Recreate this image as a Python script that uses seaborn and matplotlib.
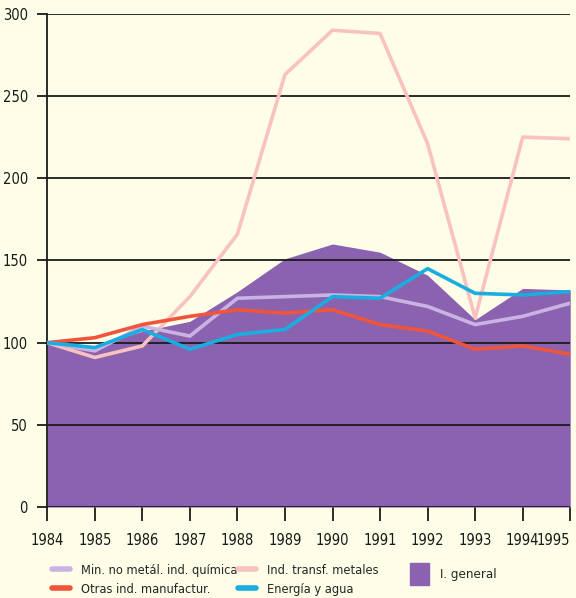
import matplotlib
matplotlib.use("Agg")
import matplotlib.pyplot as plt
import seaborn as sns
import pandas as pd
from matplotlib.lines import Line2D
from matplotlib.patches import Patch

years = [1984, 1985, 1986, 1987, 1988, 1989, 1990, 1991, 1992, 1993, 1994, 1995]
general = [100, 98, 107, 113, 131, 151, 160, 155, 141, 114, 133, 132]
min_quimica = [100, 95, 110, 104, 127, 128, 129, 128, 122, 111, 116, 124]
otras_manuf = [100, 103, 111, 116, 120, 118, 120, 111, 107, 96, 98, 93]
transf_metales = [100, 91, 98, 128, 166, 263, 290, 288, 221, 115, 225, 224]
energia_agua = [100, 97, 108, 96, 105, 108, 128, 127, 145, 130, 129, 131]

labels = ["Min. no metál. ind. química", "Otras ind. manufactur.",
          "Ind. transf. metales", "Energía y agua"]
general_label = "I. general"
yticks = [0, 50, 100, 150, 200, 250, 300]

sns.set_theme(style="white")
plt.rcParams['font.family'] = ['DejaVu Sans']
plt.rcParams['font.stretch'] = 'condensed'

bg = "#fdfde8"
c_area = "#8a62b0"
c_min = "#c9b3e3"
c_otras = "#f0553c"
c_transf = "#f9c2c0"
c_energia = "#1aaee0"
ink = "#1a1a1a"

fig = plt.figure(figsize=(5.76, 5.98), dpi=100, facecolor=bg)
ax = fig.add_axes([0.082, 0.152, 0.908, 0.825])
ax.set_facecolor(bg)

df = pd.DataFrame({"year": years, "general": general, "min": min_quimica,
                   "otras": otras_manuf, "transf": transf_metales, "energia": energia_agua})

ax.fill_between(df["year"], 0, df["general"], color=c_area, lw=0, zorder=1)
for y in yticks:
    ax.axhline(y, color=ink, lw=1.3, zorder=2)

for col, c in [("transf", c_transf), ("min", c_min), ("otras", c_otras), ("energia", c_energia)]:
    sns.lineplot(data=df, x="year", y=col, ax=ax, color=c, lw=2.6, zorder=3)

ax.set_xlim(1984, 1995)
ax.set_ylim(0, 300)
ax.set_xticks(years)
ax.set_xticklabels([str(y) for y in years])
ax.set_yticks(yticks)
ax.set_xlabel("")
ax.set_ylabel("")
for s in ["top", "right", "bottom"]:
    ax.spines[s].set_visible(False)
ax.spines["left"].set_color(ink)
ax.spines["left"].set_linewidth(1.3)
ax.tick_params(axis="x", bottom=True, length=10, width=1.3, color=ink,
               labelsize=10.5, pad=9, labelcolor=ink)
ax.tick_params(axis="y", left=True, length=7, width=1.3, color=ink,
               labelsize=10.5, pad=7, labelcolor=ink)
ax.grid(False)
ax.get_xticklabels()[-1].set_horizontalalignment("right")

h_min = Line2D([0], [0], color=c_min, lw=4)
h_otras = Line2D([0], [0], color=c_otras, lw=4)
h_transf = Line2D([0], [0], color=c_transf, lw=4)
h_energia = Line2D([0], [0], color=c_energia, lw=4)

common = dict(loc="upper left", frameon=False, fontsize=9.2, handlelength=1.4,
              handletextpad=0.85, labelspacing=0.45, borderaxespad=0, borderpad=0)
leg1 = fig.legend([h_min, h_otras], labels[:2], bbox_to_anchor=(0.09, 0.057), **common)
leg2 = fig.legend([h_transf, h_energia], labels[2:], bbox_to_anchor=(0.413, 0.057), **common)
leg3 = fig.legend([Patch(color=c_area)], [general_label], loc="upper left",
                  bbox_to_anchor=(0.712, 0.058), frameon=False, fontsize=9.5,
                  handlelength=1.4, handleheight=2.2, handletextpad=0.9,
                  borderaxespad=0, borderpad=0)

fig.savefig("out.png", dpi=100, facecolor=bg)
